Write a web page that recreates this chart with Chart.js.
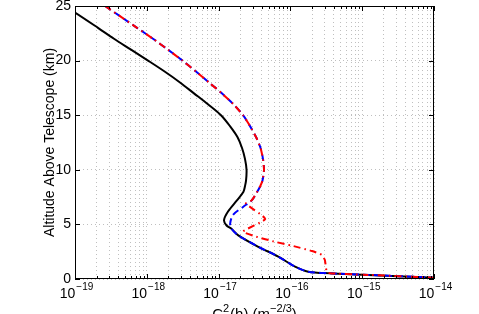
<!DOCTYPE html>
<html>
<head>
<meta charset="utf-8">
<script src="https://cdn.jsdelivr.net/npm/chart.js@4.4.1/dist/chart.umd.min.js"></script>
<style>
html, body { margin: 0; padding: 0; background: #fff; overflow: hidden; }
</style>
</head>
<body>
<canvas id="cn2Chart" width="479" height="314"></canvas>
<script>
// altitude (km) and Cn2 (m^-2/3)
const blackAlt = [25.0, 24.4, 23.0, 22.0, 21.0, 20.0, 19.0, 18.0, 17.0, 16.0, 15.0, 14.0, 13.0, 12.0, 11.0, 10.0, 9.0, 8.5, 8.0, 7.2, 6.2, 5.4, 4.9, 4.6, 4.0, 2.95, 2.05, 1.13, 0.67, 0.52, 0.40, 0.12];
const blackCn2 = [7.0e-20, 1.0e-19, 2.09e-19, 3.49e-19, 6.03e-19, 1.04e-18, 1.77e-18, 2.90e-18, 4.54e-18, 7.11e-18, 1.08e-17, 1.44e-17, 1.83e-17, 2.12e-17, 2.33e-17, 2.45e-17, 2.41e-17, 2.33e-17, 2.22e-17, 1.80e-17, 1.36e-17, 1.19e-17, 1.29e-17, 1.51e-17, 1.88e-17, 3.57e-17, 6.78e-17, 1.16e-16, 1.77e-16, 3.55e-16, 1.0e-15, 1.0e-14];

const blueAlt = [25.0, 24.0, 23.0, 22.0, 21.0, 20.0, 19.0, 18.0, 17.0, 16.0, 15.0, 14.0, 13.0, 12.0, 11.0, 10.0, 9.0, 8.45, 7.8, 7.2, 6.6, 5.9, 5.1, 4.6, 4.0, 2.95, 2.05, 1.13, 0.67, 0.52, 0.40, 0.12];
const blueCn2 = [2.62e-19, 4.38e-19, 7.31e-19, 1.22e-18, 1.97e-18, 3.14e-18, 4.84e-18, 7.35e-18, 1.11e-17, 1.61e-17, 2.19e-17, 2.74e-17, 3.32e-17, 3.84e-17, 4.15e-17, 4.29e-17, 4.08e-17, 3.77e-17, 3.32e-17, 2.89e-17, 2.19e-17, 1.60e-17, 1.45e-17, 1.51e-17, 1.88e-17, 3.57e-17, 6.78e-17, 1.16e-16, 1.77e-16, 3.55e-16, 1.0e-15, 1.0e-14];

const redAlt = [25.0, 24.0, 23.0, 22.0, 21.0, 20.0, 19.0, 18.0, 17.0, 16.0, 15.0, 14.0, 13.0, 12.0, 11.0, 10.0, 9.0, 8.45, 7.8, 7.2, 6.9, 5.5, 4.35, 3.9, 3.4, 3.05, 2.56, 2.2, 1.74, 0.67, 0.52, 0.40, 0.12];
const redCn2 = [2.62e-19, 4.38e-19, 7.31e-19, 1.22e-18, 1.97e-18, 3.14e-18, 4.84e-18, 7.35e-18, 1.11e-17, 1.61e-17, 2.19e-17, 2.74e-17, 3.32e-17, 3.84e-17, 4.15e-17, 4.29e-17, 4.08e-17, 3.77e-17, 3.32e-17, 2.89e-17, 2.40e-17, 4.47e-17, 2.19e-17, 3.24e-17, 6.17e-17, 1.05e-16, 2.0e-16, 2.75e-16, 3.02e-16, 3.2e-16, 3.55e-16, 1.0e-15, 1.0e-14];

const xTickExps = [-19, -18, -17, -16, -15, -14];
const xMinorMult = [2, 3, 4, 5, 6, 7, 8, 9];
const yTicks = [0, 5, 10, 15, 20, 25];

const FONT = "'Liberation Sans', Arial, sans-serif";

function toPoints(alt, cn2){
    let pts = [];
    for(let i = 0; i < alt.length; i++){
        pts.push({x: cn2[i], y: alt[i]})
    }
    return pts
}

// x grid values: decades + 2..9 in between
let xGridVals = [];
for(let i = 0; i < xTickExps.length; i++){
    xGridVals.push(Math.pow(10, xTickExps[i]))
    if(i < xTickExps.length - 1){
        for(const m of xMinorMult) xGridVals.push(m * Math.pow(10, xTickExps[i]))
    }
}

const matlabAxes = {
    id: 'matlabAxes',
    afterDraw(chart){
        const ctx = chart.ctx;
        const xs = chart.scales.x, ys = chart.scales.y, a = chart.chartArea;
        ctx.save();
        ctx.strokeStyle = '#000';
        ctx.lineWidth = 1;
        ctx.setLineDash([]);

        // inward ticks
        ctx.beginPath();
        for(const v of xGridVals){
            const px = Math.round(xs.getPixelForValue(v)) + 0.5;
            const major = xTickExps.some(e => Math.abs(Math.log10(v) - e) < 1e-9);
            const len = major ? 5 : 3;
            ctx.moveTo(px, a.bottom); ctx.lineTo(px, a.bottom - len);
            ctx.moveTo(px, a.top); ctx.lineTo(px, a.top + len);
        }
        for(const v of yTicks){
            const py = Math.round(ys.getPixelForValue(v)) + 0.5;
            ctx.moveTo(a.left, py); ctx.lineTo(a.left + 5, py);
            ctx.moveTo(a.right, py); ctx.lineTo(a.right - 5, py);
        }
        ctx.stroke();

        // box
        ctx.strokeRect(Math.round(a.left) + 0.5, Math.round(a.top) + 0.5, Math.round(a.right - a.left) - 1, Math.round(a.bottom - a.top) - 1);

        // x tick labels 10^n
        ctx.fillStyle = '#000';
        ctx.textBaseline = 'alphabetic';
        ctx.textAlign = 'left';
        for(const e of xTickExps){
            const px = xs.getPixelForValue(Math.pow(10, e));
            const expText = '\u2212' + Math.abs(e);
            ctx.font = '14px ' + FONT;
            const wBase = ctx.measureText('10').width;
            ctx.font = '10px ' + FONT;
            const wExp = ctx.measureText(expText).width;
            const x0 = px - (wBase + wExp) / 2 + 1;
            ctx.font = '14px ' + FONT;
            ctx.fillText('10', x0, a.bottom + 19);
            ctx.font = '10px ' + FONT;
            ctx.fillText(expText, x0 + wBase + 1, a.bottom + 11);
        }

        // x title C_n^2(h) (m^-2/3)
        const parts = [
            {t: 'C', size: 15, dy: 0},
            {t: '2', size: 11, dy: -7, stack: 'n'},
            {t: '(h) (m', size: 15, dy: 0},
            {t: '\u22122/3', size: 11, dy: -7},
            {t: ')', size: 15, dy: 0}
        ];
        let total = 0;
        for(const p of parts){
            ctx.font = p.size + 'px ' + FONT;
            p.w = ctx.measureText(p.t).width;
            total += p.w + (p.stack ? 1 : 0);
        }
        let cx = (a.left + a.right) / 2 - total / 2;
        const base = a.bottom + 40;
        for(const p of parts){
            ctx.font = p.size + 'px ' + FONT;
            ctx.fillText(p.t, cx, base + p.dy);
            if(p.stack) ctx.fillText(p.stack, cx, base + 4);
            cx += p.w + (p.stack ? 1 : 0);
        }
        ctx.restore();
    }
};

const config = {
    type: 'scatter',
    data: {
        datasets: [
            {
                label: 'black',
                data: toPoints(blackAlt, blackCn2),
                showLine: true,
                borderColor: '#000000',
                borderWidth: 2,
                pointRadius: 0,
                tension: 0.3,
                clip: 0,
                order: 3
            },
            {
                label: 'blue',
                data: toPoints(blueAlt, blueCn2),
                showLine: true,
                borderColor: '#0000ff',
                borderWidth: 2,
                borderDash: [7, 4],
                pointRadius: 0,
                tension: 0.3,
                clip: 0,
                order: 2
            },
            {
                label: 'red',
                data: toPoints(redAlt, redCn2),
                showLine: true,
                borderColor: '#ff0000',
                borderWidth: 2,
                borderDash: [7, 4, 1.5, 4],
                pointRadius: 0,
                tension: 0.15,
                clip: 0,
                order: 1
            }
        ]
    },
    options: {
        responsive: false,
        animation: false,
        devicePixelRatio: 1,
        layout: { padding: { left: 0, right: 45, top: 6, bottom: 0 } },
        plugins: {
            legend: { display: false },
            tooltip: { enabled: false }
        },
        scales: {
            x: {
                type: 'logarithmic',
                min: 1e-19,
                max: 1e-14,
                afterBuildTicks: (scale) => { scale.ticks = xGridVals.map(v => ({value: v})) },
                afterFit: (scale) => { scale.height = 35; scale.paddingLeft = 0; scale.paddingRight = 0 },
                ticks: { display: false, callback: () => '' },
                grid: { color: 'rgba(0,0,0,0.25)', lineWidth: 1, drawTicks: false },
                border: { display: false, dash: [1, 3] }
            },
            y: {
                type: 'linear',
                min: 0,
                max: 25,
                afterBuildTicks: (scale) => { scale.ticks = yTicks.map(v => ({value: v})) },
                afterFit: (scale) => { scale.width = 75; scale.paddingTop = 0; scale.paddingBottom = 0 },
                ticks: { color: '#000', padding: 4, font: { family: FONT, size: 14 } },
                grid: { color: 'rgba(0,0,0,0.25)', lineWidth: 1, drawTicks: false },
                border: { display: false, dash: [1, 3] },
                title: {
                    display: true,
                    text: 'Altitude Above Telescope (km)',
                    color: '#000',
                    font: { family: FONT, size: 14 },
                    padding: { top: 42, bottom: 0 }
                }
            }
        }
    },
    plugins: [matlabAxes]
};

new Chart(document.getElementById('cn2Chart'), config);
</script>
</body>
</html>
